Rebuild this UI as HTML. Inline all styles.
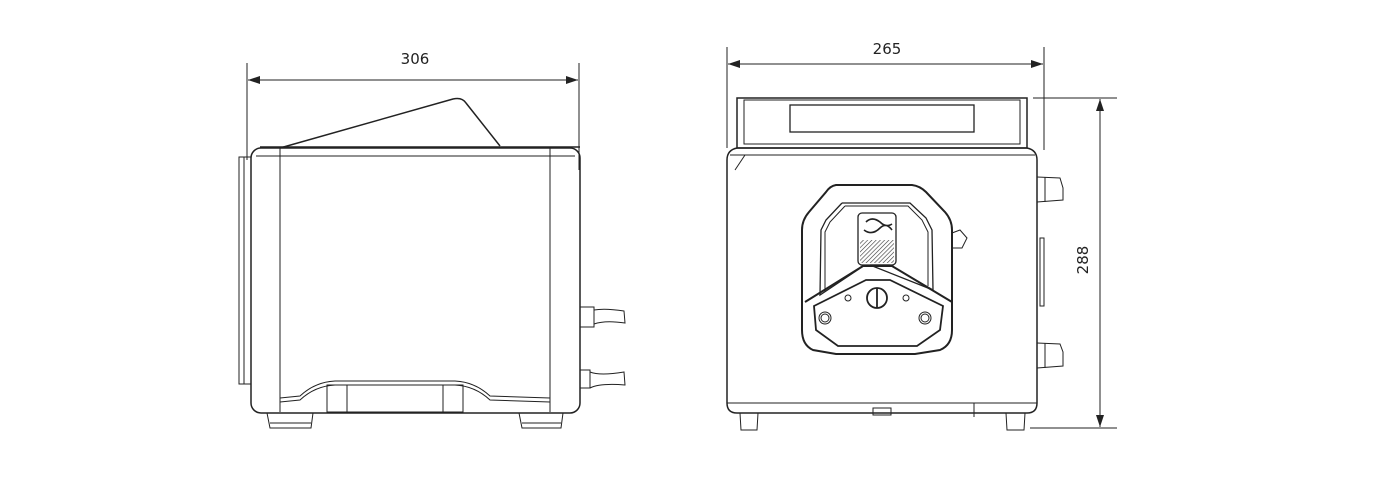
<!DOCTYPE html>
<html><head><style>
html,body{margin:0;padding:0;background:#fff;}
svg{display:block}
text{font-family:"DejaVu Sans","Liberation Sans",sans-serif;font-size:15px;fill:#222}
</style></head><body>
<svg width="1400" height="481" viewBox="0 0 1400 481" xmlns="http://www.w3.org/2000/svg">
<defs>
<marker id="a" markerWidth="12" markerHeight="8" refX="12" refY="4" orient="auto-start-reverse" markerUnits="userSpaceOnUse"><path d="M0,0 L12,4 L0,8 Z" fill="#222"/></marker>
<pattern id="h" width="3" height="3" patternUnits="userSpaceOnUse" patternTransform="rotate(45)"><line x1="0" y1="0" x2="0" y2="3" stroke="#333" stroke-width="1.2"/></pattern>
</defs>
<g fill="none" stroke="#222" stroke-width="1">
<!-- LEFT VIEW -->
<line x1="247" y1="63" x2="247" y2="160"/>
<line x1="579" y1="63" x2="579" y2="170"/>
<line x1="248" y1="80" x2="578" y2="80" marker-start="url(#a)" marker-end="url(#a)"/>
<rect x="251" y="148" width="329" height="265" rx="10" stroke-width="1.5"/>
<line x1="256" y1="156" x2="575" y2="156"/>
<line x1="280" y1="148" x2="280" y2="412"/>
<line x1="550" y1="148" x2="550" y2="412"/>
<path d="M280,148 L453,99 Q462,97 466,103 L500,146" stroke-width="1.5"/>
<line x1="260" y1="147" x2="580" y2="147" stroke-width="1.5"/>
<rect x="239" y="157" width="12" height="227"/>
<line x1="244" y1="157" x2="244" y2="384"/>
<path d="M280,402 L300,400 Q315,386 335,385 L455,385 Q475,386 490,400 L550,402"/>
<path d="M280,398 L300,396 Q315,382 335,381 L455,381 Q475,382 490,396 L550,398"/>
<rect x="327" y="385" width="136" height="27"/>
<line x1="347" y1="385" x2="347" y2="412"/><line x1="443" y1="385" x2="443" y2="412"/>
<path d="M267,413 L313,413 L311,428 L270,428 Z"/>
<line x1="270" y1="423" x2="311" y2="423"/>
<path d="M519,413 L563,413 L561,428 L522,428 Z"/>
<line x1="522" y1="423" x2="561" y2="423"/>
<rect x="580" y="307" width="14" height="20"/>
<path d="M594,310 Q605,308 624,311 L625,323 Q605,320 594,324"/>
<rect x="580" y="370" width="10" height="18"/>
<path d="M590,372 Q600,376 624,372 L625,385 Q600,383 590,388"/>
<!-- RIGHT VIEW -->
<line x1="727" y1="47" x2="727" y2="148"/>
<line x1="1044" y1="47" x2="1044" y2="150"/>
<line x1="728" y1="64" x2="1043" y2="64" marker-start="url(#a)" marker-end="url(#a)"/>
<rect x="737" y="98" width="290" height="50" stroke-width="1.5"/>
<rect x="744" y="100" width="276" height="44"/>
<rect x="790" y="105" width="184" height="27" stroke-width="1.3"/>
<path d="M727,160 Q727,150 737,148 L1027,148 Q1037,150 1037,160 L1037,403 Q1037,413 1027,413 L737,413 Q727,413 727,403 Z" stroke-width="1.5"/>
<line x1="730" y1="155" x2="1035" y2="155"/>
<line x1="745" y1="155" x2="735" y2="170"/>
<path d="M740,413 L758,413 L757,430 L741,430 Z"/>
<path d="M1006,413 L1025,413 L1024,430 L1007,430 Z"/>
<line x1="727" y1="403" x2="1037" y2="403"/>
<rect x="873" y="408" width="18" height="7"/>
<line x1="974" y1="403" x2="974" y2="417"/>
<path d="M1037,177 L1060,178 L1063,188 L1063,200 L1037,202"/>
<line x1="1045" y1="177" x2="1045" y2="202"/>
<path d="M1037,343 L1060,344 L1063,352 L1063,366 L1037,368"/>
<line x1="1045" y1="343" x2="1045" y2="368"/>
<rect x="1040" y="238" width="4" height="68"/>
<line x1="1033" y1="98" x2="1117" y2="98"/>
<line x1="1030" y1="428" x2="1117" y2="428"/>
<line x1="1100" y1="99" x2="1100" y2="427" marker-start="url(#a)" marker-end="url(#a)"/>
<!-- pump head -->
<path d="M836,185 L912,185 Q920,186 926,192 L945,212 Q952,220 952,230 L952,330 Q952,345 940,350 L915,354 L836,354 L813,350 Q802,345 802,330 L802,230 Q802,220 809,212 L826,192 Q830,186 836,185 Z" stroke-width="2"/>
<path d="M842,203 L910,203 L926,218 L932,230 L933,290 L870,265 L890,265 L933,290" stroke-width="1.3"/>
<path d="M842,203 L826,220 L821,230 L820,295 L865,265" stroke-width="1.3"/>
<path d="M845,206 L908,206 L922,220 L928,232 L928,286" />
<path d="M845,206 L830,222 L825,232 L825,292" />
<rect x="858" y="213" width="38" height="52" rx="4" stroke-width="1.3"/>
<rect x="860" y="240" width="34" height="23" fill="url(#h)" stroke="none"/>
<path d="M866,222 Q872,216 880,222 Q886,228 892,224 M864,230 Q872,236 880,228 Q886,222 892,230" stroke-width="1.6"/>
<path d="M805,302 L863,266 L892,266 L952,302" stroke-width="2"/>
<path d="M814,306 L866,280 L890,280 L943,306 L940,330 L917,346 L838,346 L816,330 Z" stroke-width="1.8"/>
<circle cx="877" cy="298" r="10" stroke-width="1.8"/>
<line x1="877" y1="288" x2="877" y2="308" stroke-width="1.8"/>
<circle cx="848" cy="298" r="3"/>
<circle cx="906" cy="298" r="3"/>
<circle cx="825" cy="318" r="6"/><circle cx="825" cy="318" r="4"/>
<circle cx="925" cy="318" r="6"/><circle cx="925" cy="318" r="4"/>
<path d="M952,233 L960,230 L967,238 L962,248 L952,248 Z"/>
</g>
<text x="415" y="64" text-anchor="middle">306</text>
<text x="887" y="54" text-anchor="middle">265</text>
<text x="0" y="0" text-anchor="middle" transform="translate(1088,260) rotate(-90)">288</text>
</svg>
</body></html>
